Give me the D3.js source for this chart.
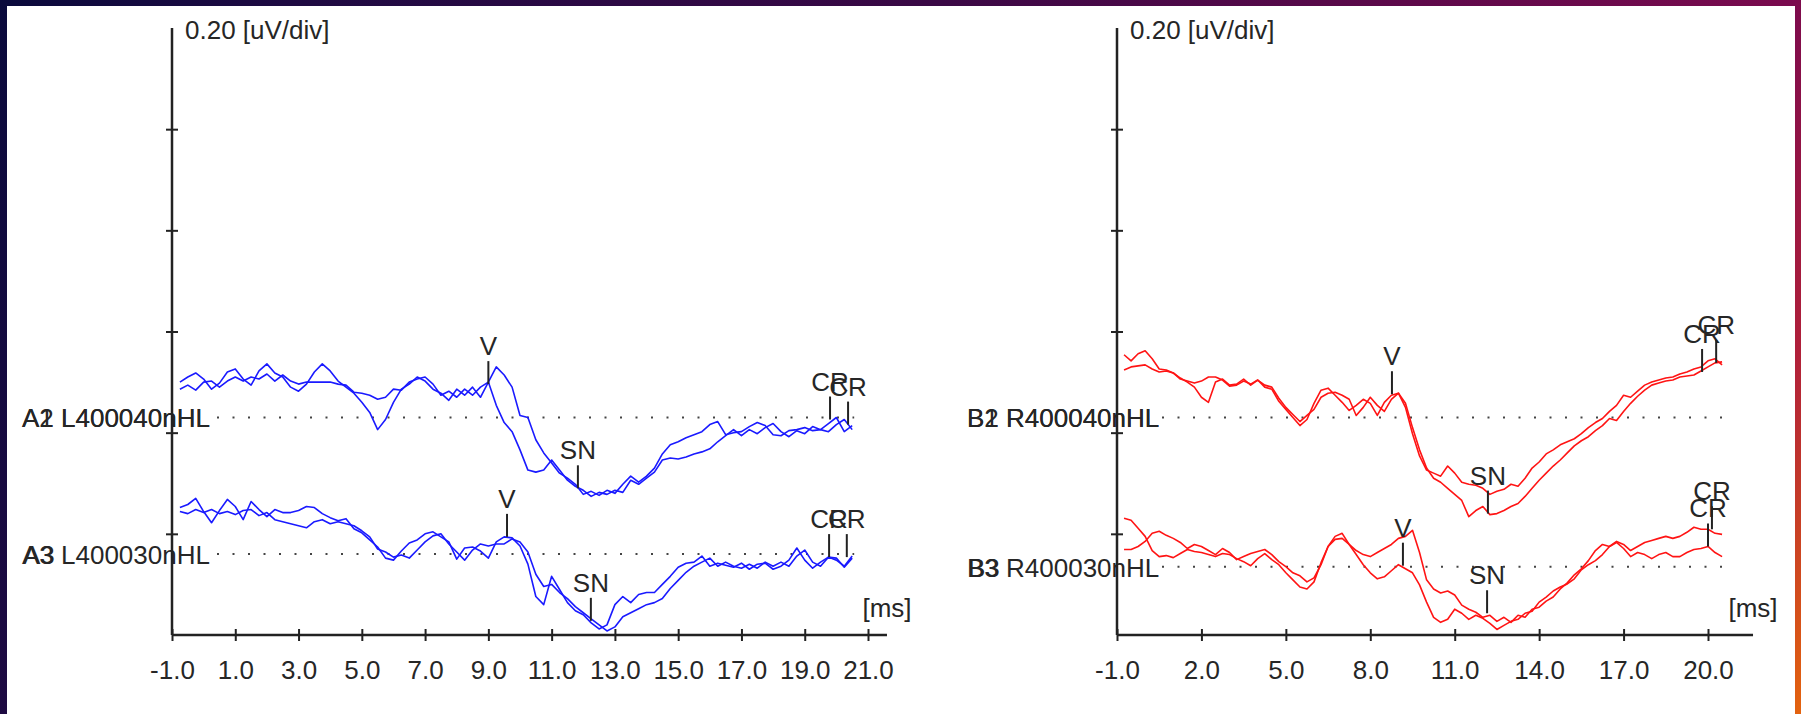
<!DOCTYPE html>
<html>
<head>
<meta charset="utf-8">
<script src="https://cdn.jsdelivr.net/npm/d3@7"></script>
<style>
  html, body { margin: 0; padding: 0; background: #fff; }
  svg text { font-family: "Liberation Sans", Arial, sans-serif; font-size: 26px; fill: #262626; }
  svg text.chan { font-size: 26px; }
</style>
</head>
<body>
<svg id="chart" width="1801" height="714"></svg>
<script>

// ========== DATA ==========

// sample times of the recorded traces [ms]
const sampleMs = [-0.75, -0.5, -0.25, 0,
    0.25, 0.5, 0.75, 1, 1.25, 1.5, 1.75, 2, 2.25, 2.5, 2.75, 3, 3.25, 3.5, 3.75, 4,
    4.25, 4.5, 4.75, 5, 5.25, 5.5, 5.75, 6, 6.25, 6.5, 6.75, 7, 7.25, 7.5, 7.75, 8,
    8.25, 8.5, 8.75, 9, 9.25, 9.5, 9.75, 10, 10.25, 10.5, 10.75, 11, 11.25, 11.5, 11.75, 12,
    12.25, 12.5, 12.75, 13, 13.25, 13.5, 13.75, 14, 14.25, 14.5, 14.75, 15, 15.25, 15.5, 15.75, 16,
    16.25, 16.5, 16.75, 17, 17.25, 17.5, 17.75, 18, 18.25, 18.5, 18.75, 19, 19.25, 19.5, 19.75, 20,
    20.25, 20.5];

// left ear, 40 nHL (uV, relative to baseline)
const traceA1 = [0.070, 0.080, 0.088, 0.076,
    0.056, 0.068, 0.090, 0.096, 0.076, 0.064, 0.092, 0.106, 0.088, 0.080, 0.060, 0.052,
    0.066, 0.090, 0.106, 0.092, 0.072, 0.060, 0.048, 0.030, 0.010, -0.024, -0.004, 0.030,
    0.056, 0.066, 0.080, 0.072, 0.056, 0.048, 0.034, 0.056, 0.044, 0.060, 0.040, 0.070,
    0.100, 0.084, 0.060, 0.004, 0.000, -0.044, -0.070, -0.090, -0.110, -0.120, -0.132, -0.152,
    -0.146, -0.154, -0.144, -0.150, -0.132, -0.116, -0.128, -0.116, -0.100, -0.072, -0.054, -0.048,
    -0.040, -0.034, -0.028, -0.014, -0.008, -0.034, -0.030, -0.028, -0.018, -0.010, -0.016, -0.034,
    -0.036, -0.026, -0.024, -0.020, -0.026, -0.024, -0.012, 0.000, -0.028, -0.016];
const traceA2 = [0.056, 0.064, 0.054, 0.070,
    0.072, 0.060, 0.072, 0.080, 0.072, 0.080, 0.076, 0.086, 0.072, 0.084, 0.072, 0.066,
    0.070, 0.070, 0.070, 0.070, 0.066, 0.064, 0.050, 0.048, 0.044, 0.036, 0.040, 0.056,
    0.054, 0.070, 0.076, 0.080, 0.066, 0.044, 0.052, 0.040, 0.056, 0.044, 0.060, 0.070,
    0.024, -0.010, -0.028, -0.064, -0.104, -0.108, -0.104, -0.084, -0.104, -0.124, -0.136, -0.144,
    -0.156, -0.148, -0.152, -0.144, -0.148, -0.124, -0.132, -0.120, -0.108, -0.084, -0.080, -0.082,
    -0.078, -0.072, -0.068, -0.062, -0.048, -0.036, -0.024, -0.036, -0.024, -0.032, -0.020, -0.012,
    -0.028, -0.038, -0.026, -0.032, -0.018, -0.024, -0.028, -0.014, -0.004, -0.024];

// left ear, 30 nHL
const traceA3 = [0.092, 0.098, 0.110, 0.084,
    0.062, 0.086, 0.108, 0.094, 0.068, 0.104, 0.088, 0.074, 0.088, 0.082, 0.082, 0.086,
    0.094, 0.092, 0.080, 0.072, 0.066, 0.070, 0.050, 0.042, 0.028, 0.014, -0.008, -0.012,
    0.006, 0.022, 0.028, 0.040, 0.044, 0.034, 0.024, -0.010, 0.012, 0.014, 0.006, -0.008,
    0.024, 0.034, 0.032, 0.016, -0.020, -0.084, -0.100, -0.044, -0.070, -0.096, -0.112, -0.120,
    -0.136, -0.148, -0.140, -0.100, -0.084, -0.096, -0.080, -0.076, -0.076, -0.060, -0.044, -0.026,
    -0.018, -0.016, -0.004, -0.024, -0.018, -0.022, -0.026, -0.018, -0.030, -0.020, -0.018, -0.030,
    -0.024, -0.012, 0.012, -0.012, -0.028, -0.016, -0.006, -0.008, -0.026, -0.008];
const traceA4 = [0.084, 0.080, 0.088, 0.082,
    0.088, 0.080, 0.084, 0.078, 0.086, 0.088, 0.076, 0.082, 0.068, 0.064, 0.060, 0.056,
    0.052, 0.064, 0.068, 0.060, 0.064, 0.060, 0.056, 0.046, 0.034, 0.010, 0.004, -0.006,
    -0.002, -0.008, 0.008, 0.024, 0.036, 0.040, 0.020, 0.004, -0.012, 0.008, 0.020, 0.016,
    0.020, 0.020, 0.030, 0.024, 0.004, -0.040, -0.064, -0.060, -0.076, -0.088, -0.104, -0.116,
    -0.128, -0.140, -0.152, -0.144, -0.124, -0.116, -0.108, -0.100, -0.096, -0.088, -0.068, -0.052,
    -0.036, -0.024, -0.016, -0.008, -0.024, -0.016, -0.024, -0.028, -0.020, -0.028, -0.016, -0.024,
    -0.016, -0.024, -0.004, 0.008, -0.016, -0.024, -0.006, -0.012, -0.024, -0.004];

// right ear, 40 nHL
const traceB1 = [0.124, 0.112, 0.126, 0.132,
    0.116, 0.096, 0.094, 0.088, 0.078, 0.070, 0.060, 0.040, 0.030, 0.070, 0.076, 0.064,
    0.066, 0.076, 0.064, 0.074, 0.060, 0.056, 0.032, 0.016, 0.000, -0.016, -0.004, 0.028,
    0.054, 0.058, 0.044, 0.030, 0.014, 0.024, 0.036, 0.028, 0.004, 0.030, 0.044, 0.048,
    0.020, -0.032, -0.076, -0.104, -0.110, -0.116, -0.096, -0.110, -0.128, -0.132, -0.134, -0.140,
    -0.152, -0.146, -0.142, -0.132, -0.136, -0.120, -0.100, -0.088, -0.072, -0.064, -0.054, -0.048,
    -0.042, -0.032, -0.020, -0.010, -0.002, 0.012, 0.024, 0.044, 0.040, 0.052, 0.064, 0.070,
    0.074, 0.078, 0.080, 0.086, 0.090, 0.096, 0.100, 0.112, 0.116, 0.104];
const traceB2 = [0.094, 0.100, 0.102, 0.104,
    0.096, 0.090, 0.092, 0.088, 0.076, 0.072, 0.068, 0.072, 0.080, 0.080, 0.074, 0.062,
    0.064, 0.072, 0.066, 0.074, 0.064, 0.060, 0.038, 0.020, 0.006, -0.008, 0.004, 0.016,
    0.040, 0.048, 0.050, 0.044, 0.036, 0.004, 0.020, 0.040, 0.024, 0.012, 0.036, 0.048,
    0.028, -0.020, -0.064, -0.100, -0.120, -0.128, -0.140, -0.152, -0.164, -0.196, -0.184, -0.176,
    -0.192, -0.190, -0.184, -0.176, -0.170, -0.156, -0.140, -0.124, -0.110, -0.096, -0.084, -0.070,
    -0.056, -0.046, -0.038, -0.026, -0.016, -0.002, -0.006, 0.012, 0.028, 0.042, 0.054, 0.064,
    0.068, 0.072, 0.074, 0.080, 0.082, 0.084, 0.092, 0.100, 0.108, 0.110];

// right ear, 30 nHL
const traceB3 = [0.096, 0.092, 0.076, 0.060,
    0.032, 0.020, 0.022, 0.018, 0.026, 0.034, 0.030, 0.028, 0.024, 0.020, 0.026, 0.024,
    0.016, 0.010, 0.002, 0.016, 0.026, 0.014, 0.004, -0.012, -0.026, -0.040, -0.044, -0.030,
    0.008, 0.040, 0.054, 0.056, 0.044, 0.032, 0.024, 0.020, 0.028, 0.036, 0.044, 0.056,
    0.060, 0.072, 0.028, -0.026, -0.044, -0.052, -0.048, -0.056, -0.076, -0.084, -0.090, -0.100,
    -0.096, -0.108, -0.100, -0.110, -0.096, -0.100, -0.084, -0.080, -0.068, -0.060, -0.044, -0.032,
    -0.016, -0.004, 0.012, 0.032, 0.044, 0.040, 0.050, 0.044, 0.032, 0.040, 0.048, 0.052,
    0.056, 0.060, 0.056, 0.060, 0.068, 0.078, 0.074, 0.074, 0.066, 0.064];
const traceB4 = [0.034, 0.034, 0.040, 0.050,
    0.066, 0.070, 0.062, 0.056, 0.048, 0.036, 0.044, 0.040, 0.032, 0.024, 0.036, 0.028,
    0.014, 0.020, 0.026, 0.030, 0.034, 0.024, 0.010, 0.000, -0.012, -0.018, -0.030, -0.022,
    0.004, 0.040, 0.060, 0.066, 0.044, 0.024, 0.004, -0.012, -0.024, -0.020, -0.008, 0.004,
    -0.004, -0.012, -0.036, -0.070, -0.100, -0.110, -0.104, -0.084, -0.092, -0.104, -0.096, -0.102,
    -0.112, -0.124, -0.116, -0.108, -0.104, -0.092, -0.088, -0.070, -0.060, -0.048, -0.040, -0.034,
    -0.024, -0.006, 0.004, 0.012, 0.024, 0.040, 0.048, 0.036, 0.020, 0.028, 0.024, 0.016,
    0.024, 0.028, 0.020, 0.020, 0.028, 0.034, 0.036, 0.040, 0.028, 0.020];

// baseline level of each trace pair on the uV axis (top pair, bottom pair)
const levelsLeft = [0.43, 0.16];
const levelsRight = [0.43, 0.135];

// channel labels, printed over each other like the original (short one = overprinted prefix)
const labelsLeft = [["A1 L400040nHL", "A2 L400040nHL"], ["A3 L400030nHL", "A3"]];
const labelsRight = [["B1 R400040nHL", "B2 R400040nHL"], ["B3 R400030nHL", "B3"]];

// peak markers: [label, ms, uV]
const markersA12 = [["V", 9.0, 0.066], ["SN", 11.83, -0.140], ["CR", 19.8, -0.004], ["CR", 20.37, -0.014]];
const markersA34 = [["V", 9.59, 0.034], ["SN", 12.24, -0.132], ["CR", 19.77, -0.006], ["CR", 20.33, -0.006]];
const markersB12 = [["V", 8.77, 0.046], ["SN", 12.18, -0.190], ["CR", 19.79, 0.090], ["CR", 20.29, 0.108]];
const markersB34 = [["V", 9.16, 0.002], ["SN", 12.15, -0.092], ["CR", 20.0, 0.040], ["CR", 20.14, 0.074]];

const xTicksLeft = [-1, 1, 3, 5, 7, 9, 11, 13, 15, 17, 19, 21];
const xTicksRight = [-1, 2, 5, 8, 11, 14, 17, 20];
const yTicks = [0.2, 0.4, 0.6, 0.8, 1.0];


// ========== MAIN CODE ==========

const W = 1801, H = 714;
const svg = d3.select('#chart');

// frame gradient
const grad = svg.append('defs')
    .append('linearGradient')
    .attr('id', 'frame')
    .attr('gradientUnits', 'userSpaceOnUse')
    .attr('x1', 0).attr('y1', 0)
    .attr('x2', W).attr('y2', H);

[[0, '#0a0a3c'], [0.14, '#1e0a42'], [0.45, '#3a0845'], [0.86, '#7a0a4e'], [0.93, '#b0203a'], [1, '#e4640e']]
    .forEach(d => {
        grad.append('stop').attr('offset', d[0]).attr('stop-color', d[1]);
    });

svg.append('rect').attr('width', W).attr('height', H).attr('fill', 'url(#frame)');
svg.append('rect').attr('x', 7).attr('y', 6).attr('width', 1788).attr('height', H - 6).attr('fill', '#fff');

const y = d3.scaleLinear().domain([0, 1.2]).range([635, 28]);

const panels = [
    {
        x: d3.scaleLinear().domain([-1, 21]).range([172, 868]),
        ticks: xTicksLeft, color: '#1a1aff', levels: levelsLeft,
        traces: [[traceA1, traceA2], [traceA3, traceA4]],
        labels: labelsLeft, markers: [markersA12, markersA34]
    },
    {
        x: d3.scaleLinear().domain([-1, 20]).range([1117, 1708]),
        ticks: xTicksRight, color: '#ff1414', levels: levelsRight,
        traces: [[traceB1, traceB2], [traceB3, traceB4]],
        labels: labelsRight, markers: [markersB12, markersB34]
    }
];

panels.forEach(drawPanel);

function drawPanel(p) {
    const g = svg.append('g');
    const x0 = p.x(-1);
    const xEnd = p.x(21.6);
    const lastMs = sampleMs[sampleMs.length - 1];

    p.levels.forEach((level, k) => {
        const yl = y(level);

        // channel labels
        p.labels[k].forEach(txt => {
            const overprint = txt.length < p.labels[k][0].length;
            g.append('text')
                .attr('class', 'chan')
                .attr('x', x0 - 150 + (overprint ? 1 : 0))
                .attr('y', yl + 10)
                .text(txt);
        });

        // dotted baseline
        g.append('line')
            .attr('x1', x0 + 45).attr('x2', p.x(lastMs) + 2)
            .attr('y1', yl).attr('y2', yl)
            .attr('stroke', '#444')
            .attr('stroke-width', 2)
            .attr('stroke-dasharray', '2 13.5');

        // traces
        const line = d3.line()
            .x((d, i) => p.x(sampleMs[i]))
            .y(d => y(level + d));

        p.traces[k].forEach(tr => {
            g.append('path')
                .attr('d', line(tr))
                .attr('fill', 'none')
                .attr('stroke', p.color)
                .attr('stroke-width', 1.6)
                .attr('stroke-linejoin', 'round');
        });

        // peak markers
        p.markers[k].forEach(m => {
            const mx = p.x(m[1]);
            const my = y(level + m[2]);
            g.append('line')
                .attr('x1', mx).attr('x2', mx)
                .attr('y1', my).attr('y2', my - 23)
                .attr('stroke', '#222')
                .attr('stroke-width', 2);
            g.append('text')
                .attr('x', mx)
                .attr('y', my - 29)
                .attr('text-anchor', 'middle')
                .text(m[0]);
        });
    });

    // y axis
    g.append('line')
        .attr('x1', x0).attr('x2', x0)
        .attr('y1', y(0)).attr('y2', y(1.2))
        .attr('stroke', '#222').attr('stroke-width', 2.5);

    const yAxis = g.append('g')
        .attr('transform', 'translate(' + x0 + ',0)')
        .style('color', '#222')
        .call(d3.axisLeft(y).tickValues(yTicks).tickFormat('').tickSize(6));
    yAxis.select('.domain').remove();
    yAxis.selectAll('.tick line').attr('x1', 6).attr('stroke-width', 2);

    // x axis
    g.append('line')
        .attr('x1', x0).attr('x2', xEnd)
        .attr('y1', y(0)).attr('y2', y(0))
        .attr('stroke', '#222').attr('stroke-width', 2.5);

    const xAxis = g.append('g')
        .attr('transform', 'translate(0,' + y(0) + ')')
        .style('color', '#222')
        .call(d3.axisBottom(p.x).tickValues(p.ticks).tickFormat(d => d.toFixed(1)).tickSize(6));
    xAxis.select('.domain').remove();
    xAxis.selectAll('.tick line').attr('y1', -6).attr('stroke-width', 2);
    xAxis.selectAll('.tick text').attr('y', 44).attr('dy', null);

    g.append('text')
        .attr('x', xEnd)
        .attr('y', 617)
        .attr('text-anchor', 'middle')
        .text('[ms]');

    g.append('text')
        .attr('x', x0 + 13)
        .attr('y', 39)
        .text('0.20 [uV/div]');
}
</script>
</body>
</html>
